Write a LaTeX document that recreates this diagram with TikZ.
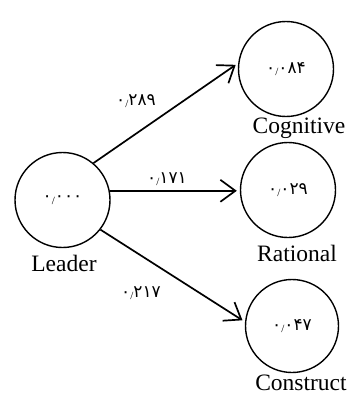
\documentclass[tikz,border=0pt]{standalone}
\usepackage{fontspec}
\setmainfont{Liberation Serif}
\newfontfamily\fa[Script=Arabic]{DejaVu Sans}
\newcommand\decsep{{\rmfamily\fontsize{11}{12}\selectfont\raisebox{-2.5pt}{/}}}
\usetikzlibrary{arrows.meta}
\begin{document}
\begin{tikzpicture}[x=1pt,y=-1pt,
  var/.style={circle,draw,line width=1.4pt,minimum size=95pt,inner sep=0pt,font=\fa\fontsize{17}{19}\selectfont},
  lbl/.style={font=\fontsize{23.5}{26}\selectfont,inner sep=0pt},
  coef/.style={font=\fa\fontsize{17}{19}\selectfont,inner sep=0pt},
  arr/.style={line width=1.7pt,-{Straight Barb[length=15pt,width=22pt,line width=1.7pt]},shorten >=3pt}]
\useasboundingbox (0,0) rectangle (352,396);
\node[var] (L) at (62.5,200) {۰\decsep۰۰۰};
\node[var] (C) at (286,69) {۰\decsep۰۸۴};
\node[var] (R) at (288,190) {۰\decsep۰۲۹};
\node[var,minimum size=93pt] (K) at (292,326) {۰\decsep۰۴۷};
\node[lbl] (Lt) at (64,263) {Leader};
\node[lbl] (Ct) at (299,128) {Cognitive};
\node[lbl] (Rt) at (297,253) {Rational};
\node[lbl] (Kt) at (301,383) {Construct};
\draw[arr] (L.50) -- (C.173);
\draw[arr] (L.11) -- (L.11 -| R.west);
\draw[arr] (L.-38) -- (K.175);
\node[coef] (e1) at (136,101) {۰\decsep۲۸۹};
\node[coef] (e2) at (167,179) {۰\decsep۱۷۱};
\node[coef] (e3) at (141,293) {۰\decsep۲۱۷};
\end{tikzpicture}
\end{document}
